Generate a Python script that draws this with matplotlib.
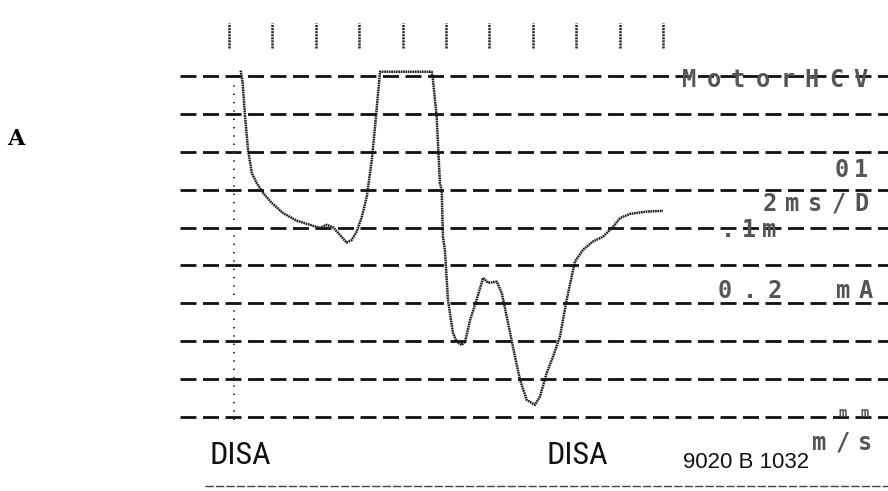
import matplotlib
matplotlib.use("Agg")
import matplotlib.pyplot as plt
from matplotlib import font_manager

plt.rcParams['lines.scale_dashes'] = False

# trace: time in ms, amplitude in divisions (grid lines at 0..9)
time_ms = [0.54, 0.63, 0.74, 0.88, 1.05, 1.28, 1.57, 1.97, 2.49, 3.12, 3.73, 4.19,
           4.50, 4.79, 5.12, 5.42, 5.65, 5.88, 6.12, 6.35, 6.58, 6.73, 6.96, 9.34,
           9.40, 9.57, 9.72, 9.80, 9.86, 9.95, 10.09, 10.32, 10.49, 10.72, 10.88,
           11.11, 11.41, 11.71, 11.94, 12.34, 12.57, 12.86, 13.18, 13.41, 13.72,
           14.10, 14.33, 14.64, 14.93, 15.25, 15.56, 15.94, 16.31, 16.77, 17.24,
           17.70, 18.02, 18.48, 19.25, 20.00]
signal = [9.14, 8.81, 7.92, 7.04, 6.44, 6.17, 5.91, 5.65, 5.38, 5.18, 5.07, 4.99,
          5.07, 5.01, 4.80, 4.60, 4.67, 4.89, 5.28, 5.81, 6.78, 7.66, 9.11, 9.11,
          8.89, 7.92, 6.17, 5.99, 4.75, 4.41, 3.09, 2.22, 1.99, 1.90, 1.99,
          2.56, 3.09, 3.67, 3.54, 3.57, 3.27, 2.48, 1.59, 0.98, 0.45,
          0.32, 0.54, 1.16, 1.59, 2.12, 3.09, 4.10, 4.41, 4.63, 4.76,
          5.02, 5.25, 5.36, 5.42, 5.44]

grid_levels = list(range(10))
tick_times = list(range(0, 21, 2))

# screen readouts: text, left px, centre px, char pitch
readouts = [("MotorHCV", 677, 80, 24.5), ("01", 832, 170, 19), ("2ms/D", 758, 204, 23),
            (".1m", 717, 230, 21), ("0.2", 712, 291, 25), ("mA", 832, 291, 22.5),
            ("m/s", 808, 443, 23)]

# pick a narrow face for the DISA logo if one is around
names = {f.name for f in font_manager.fontManager.ttflist}
narrow = 'DejaVu Sans'
for cand in ['Liberation Sans Narrow', 'Roboto Condensed', 'Open Sans Condensed',
             'DejaVu Sans Condensed', 'Noto Sans Condensed']:
    if cand in names:
        narrow = cand
        break

W, H = 888, 491
fig = plt.figure(figsize=(W / 100, H / 100), dpi=100)
ax = fig.add_axes([0, 0, 1, 1])
# 2 ms per division = 43.4 px, 1 division = 37.9 px
ax.set_xlim((0 - 229) / 21.7, (W - 229) / 21.7)
ax.set_ylim((417 - H) / 37.9, 417 / 37.9)
ax.axis('off')

x_left = (180 - 229) / 21.7
x_right = (W - 229) / 21.7
ax.hlines(grid_levels, x_left, x_right, colors='#111111', linewidth=2.0,
          linestyles=[(0, (11.5, 4.7))])

ax.vlines(tick_times, 9.73, 10.4, colors='#222222', linewidth=1.8,
          linestyles=[(0, (1.5, 0.7))])

# trigger marker
ax.vlines([0.23], -0.08, 8.76, colors='#333333', linewidth=1.4,
          linestyles=[(0, (1, 5))])

ax.plot(time_ms, signal, color='#1a1a1a', linewidth=1.8, linestyle=(0, (1.2, 0.5)))

# bottom edge of the print
ax.hlines([-1.82], (205 - 229) / 21.7, x_right, colors='#444444', linewidth=1.0,
          linestyles=[(0, (6, 1.5))])


def px(x, y):
    return x / W, 1 - y / H


for label, x0, yc, pitch in readouts:
    for i, ch in enumerate(label):
        fig.text(*px(x0 + pitch / 2 + i * pitch, yc), ch, family='DejaVu Sans Mono',
                 fontsize=17, fontweight='bold', color='#555555',
                 ha='center', va='center')

for i, ch in enumerate("mm"):
    fig.text(*px(843 + i * 22, 413), ch, family='DejaVu Sans Mono', fontweight='bold',
             fontsize=10, color='#555555', ha='center', va='center')

fig.text(*px(16, 139), "A", family='DejaVu Serif', fontweight='bold',
         fontsize=16, ha='center', va='center')

for xc in (240, 577):
    fig.text(*px(xc, 455), "DISA", family=[narrow, 'DejaVu Sans'], fontstretch='condensed',
             fontsize=23, ha='center', va='center', color='#111111')

fig.text(*px(683, 463), "9020 B 1032", family='Liberation Sans', fontsize=16,
         ha='left', va='center', color='#111111')

fig.savefig('out.png', dpi=100)
